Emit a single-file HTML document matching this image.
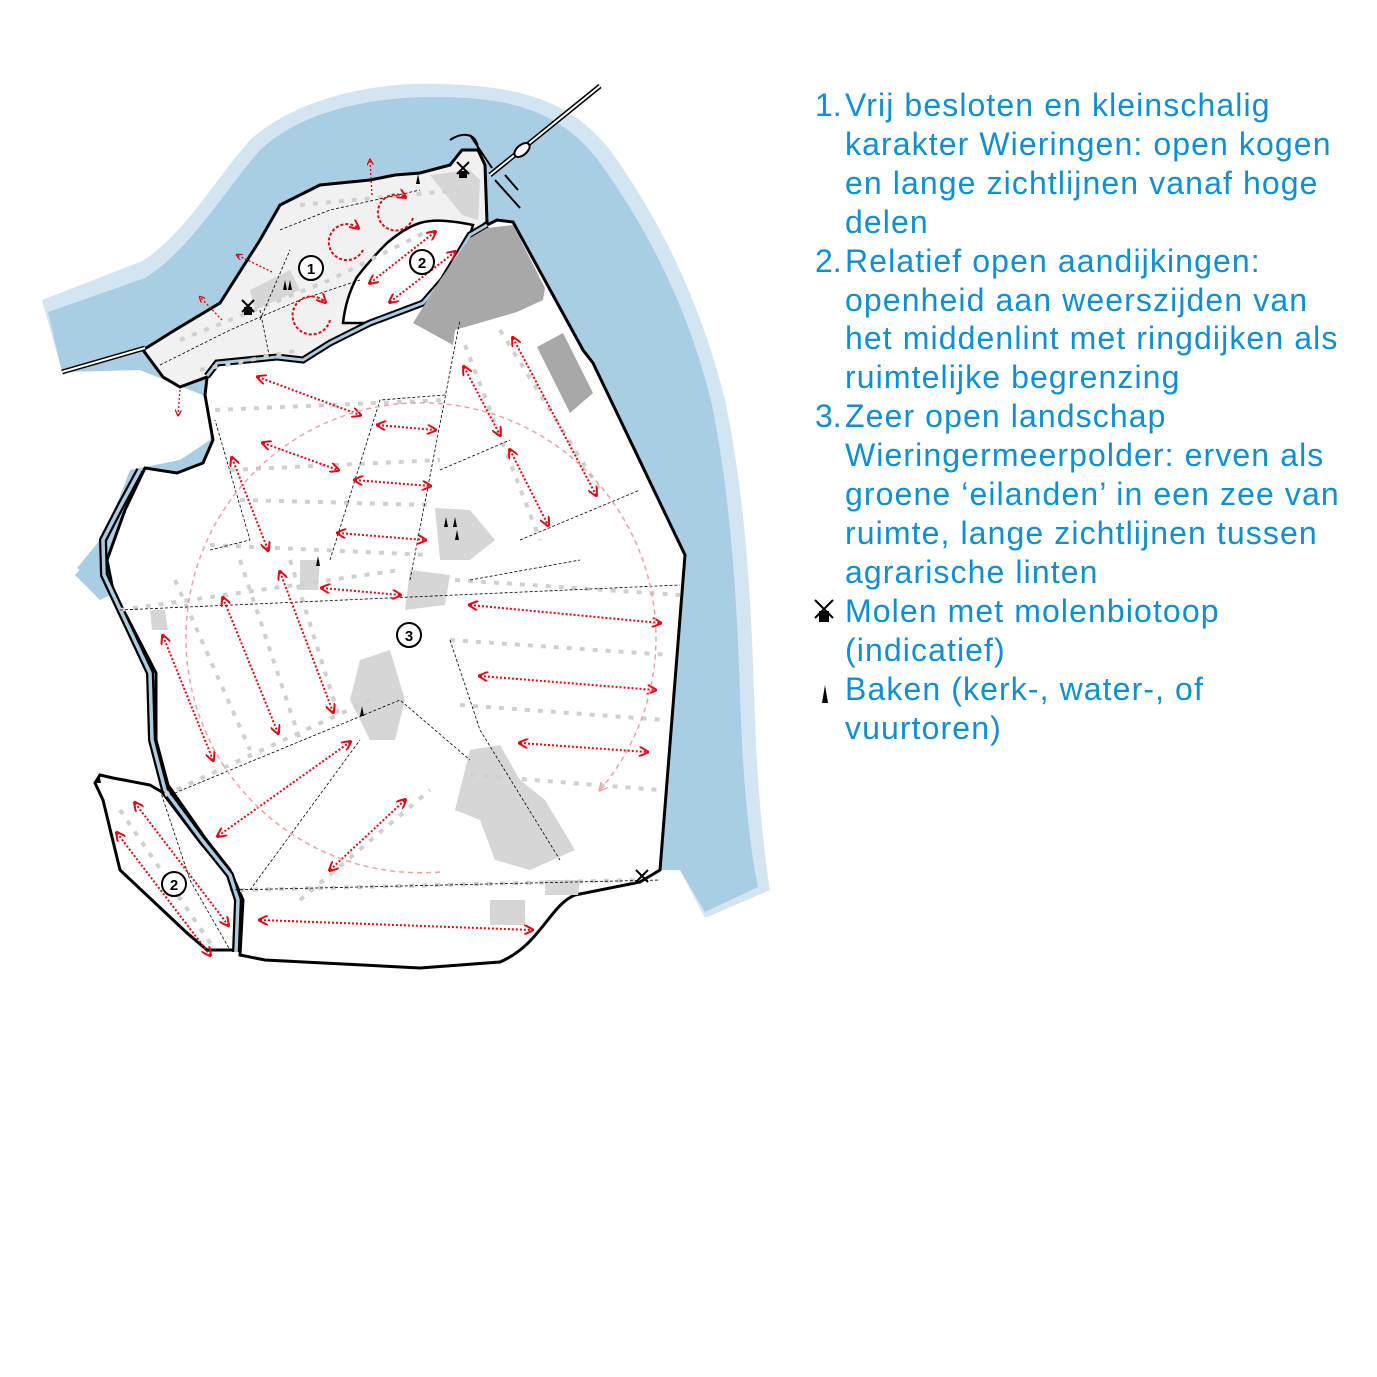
<!DOCTYPE html>
<html><head><meta charset="utf-8"><style>
body{margin:0;background:#fff;width:1377px;height:1377px;overflow:hidden;position:relative}
svg{position:absolute;left:0;top:0}
.leg{position:absolute;left:815px;top:86px;font-family:"Liberation Sans",sans-serif;font-size:32px;line-height:38.9px;color:#0e8fd3;letter-spacing:1.1px;white-space:nowrap}
.leg div{position:relative;padding-left:30px}
.leg span{position:absolute;left:0;letter-spacing:0}
</style></head><body>
<svg width="1377" height="1377" viewBox="0 0 1377 1377">
<defs>
<marker id="a" viewBox="0 0 10 10" refX="8" refY="5" markerWidth="5" markerHeight="5" orient="auto-start-reverse"><path d="M0,0L10,5L0,10" fill="none" stroke="#e30613" stroke-width="2"/></marker>
<marker id="p" viewBox="0 0 10 10" refX="8" refY="5" markerWidth="6" markerHeight="6" orient="auto"><path d="M0,0L10,5L0,10" fill="none" stroke="#f4a0a0" stroke-width="1.5"/></marker>
</defs>
<!-- water -->
<path d="M42,300 L140,262 C180,240 215,180 250,140 C300,95 380,82 440,84 C520,86 570,100 610,150 C660,220 700,300 725,400 C750,520 752,640 755,720 C758,800 765,860 770,890 L705,918 L680,870 L660,870 L600,600 L300,500 L100,600 L75,575 L100,548 L130,470 L180,460 L210,440 L215,400 L140,370 L62,372 Z" fill="#d3e5f1"/>
<path d="M48,312 L145,278 C190,250 225,190 260,150 C305,108 380,96 440,97 C515,98 560,112 598,160 C645,225 688,305 712,405 C735,520 738,640 741,720 C744,800 752,860 758,887 L705,912 L680,870 L660,870 L600,600 L300,500 L100,600 L75,575 L100,548 L130,470 L180,460 L210,440 L215,400 L140,370 L62,372 Z" fill="#a9cde3"/>
<path d="M77,568 L100,540 L110,590 Z" fill="#a9cde3"/>
<!-- main land -->
<path d="M207,378 L217,363 L277,357 L303,360 L330,343 L370,323 L423,303 L443,280 L470,235 L487,225 L497,220 L513,222 L583,350 L593,363 L685,555 L660,870 L640,882 L575,895 C550,905 540,945 500,962 L420,968 L265,960 L240,955 L243,900 L230,870 L205,838 L168,785 L156,740 L156,673 L113,590 L107,560 L125,510 L145,468 L177,473 L203,463 L213,440 L205,395 Z" fill="#fff" stroke="#000" stroke-width="3"/>
<!-- island -->
<path d="M143,350 L175,330 L220,303 L260,240 L280,205 L320,185 L370,180 L395,175 L420,173 L450,165 L462,150 L478,150 L485,165 L487,222 L470,235 L443,280 L423,303 L370,323 L330,343 L303,360 L277,357 L217,363 L207,377 L180,387 L163,377 Z" fill="#f1f1f1" stroke="#000" stroke-width="3"/>
<path d="M343,323 C345,305 350,290 357,277 C370,260 380,250 387,243 C400,232 410,226 420,223 C430,220 443,219 473,225 L470,235 L443,280 L423,303 L370,323 Z" fill="#fff" stroke="#000" stroke-width="2.5"/>
<path d="M430,175 L470,170 L480,180 L478,220 L462,215 Z" fill="#d6d6d6"/>
<!-- lower left -->
<path d="M100,775 L113,778 L150,785 L162,792 L200,842 L228,875 L236,900 L236,950 L207,950 L187,933 L120,870 L103,800 L95,783 Z" fill="#fff" stroke="#000" stroke-width="3"/>
<!-- channels -->
<path d="M207,376 L217,363 L277,357 L303,360 L330,343 L370,323 L423,303 L443,280 L470,235 L487,225" fill="none" stroke="#000" stroke-width="7"/>
<path d="M207,376 L217,363 L277,357 L303,360 L330,343 L370,323 L423,303 L443,280 L470,235 L487,225" fill="none" stroke="#a9cde3" stroke-width="3"/>
<path d="M140,470 L120,507 L103,540 L104,575 L150,673 L152,740 L165,790 L202,840 L230,875 L238,900 L236,952" fill="none" stroke="#000" stroke-width="8"/>
<path d="M140,470 L120,507 L103,540 L104,575 L150,673 L152,740 L165,790 L202,840 L230,875 L238,900 L236,952" fill="none" stroke="#a9cde3" stroke-width="3.5"/>
<!-- dikes -->
<path d="M62,372 L145,348" stroke="#000" stroke-width="5"/><path d="M62,372 L145,348" stroke="#fff" stroke-width="2"/>
<path d="M490,175 L600,86" stroke="#000" stroke-width="5"/><path d="M490,175 L600,86" stroke="#fff" stroke-width="2"/>
<ellipse cx="522" cy="150" rx="9" ry="5" fill="#fff" stroke="#000" stroke-width="2" transform="rotate(-40 522 150)"/>
<g stroke="#000" stroke-width="2" fill="none">
<path d="M450,140 C465,130 478,135 478,150"/><path d="M470,135 L492,168"/><path d="M495,180 L520,208"/><path d="M505,175 L518,190"/>
</g>
<!-- gray areas -->
<g fill="#a8a8a8">
<path d="M487,228 L513,225 L545,288 L543,300 L517,312 L455,330 L453,345 L413,323 L440,280 L470,238 Z"/>
<path d="M537,347 L563,333 L593,393 L570,413 Z"/>
</g>
<g fill="#d6d6d6">
<path d="M435,508 L470,510 L495,540 L470,560 L440,560 Z"/>
<path d="M410,570 L450,575 L445,605 L405,610 Z"/>
<path d="M360,660 L390,650 L405,700 L395,740 L370,740 L350,700 Z"/>
<path d="M470,750 L500,745 L520,780 L545,800 L575,850 L530,870 L495,860 L480,820 L455,810 Z"/>
<path d="M490,900 L525,900 L525,925 L490,925 Z"/>
<path d="M545,880 L580,880 L578,895 L545,895 Z"/>
<path d="M250,290 L290,270 L300,290 L255,310 Z"/>
<path d="M300,560 L320,560 L318,590 L300,590 Z"/>
<path d="M150,610 L165,610 L168,630 L152,630 Z"/>
</g>
<!-- ribbons of buildings -->
<g stroke="#d0d0d0" stroke-width="4" stroke-dasharray="5 8" fill="none">
<path d="M215,410 L445,400"/><path d="M230,470 L440,460"/><path d="M240,500 L430,505"/>
<path d="M210,545 L430,555"/><path d="M120,610 L400,570"/><path d="M455,580 L680,595"/>
<path d="M450,640 L670,655"/><path d="M460,705 L665,720"/><path d="M470,775 L660,790"/>
<path d="M175,580 L250,750"/><path d="M240,560 L300,740"/><path d="M290,560 L340,720"/>
<path d="M465,345 L540,540"/><path d="M500,330 L600,490"/><path d="M240,890 L640,880"/>
<path d="M165,795 L370,700"/><path d="M300,900 L430,790"/><path d="M120,810 L215,950"/>
<path d="M300,205 L460,190"/><path d="M180,340 L330,280 L430,230"/><path d="M200,370 L300,350"/>
</g>
<!-- thin dashed roads -->
<g stroke="#000" stroke-width="0.8" stroke-dasharray="3 2" fill="none">
<path d="M120,610 L680,585"/><path d="M410,580 L460,320"/><path d="M450,640 L480,730 L560,860"/>
<path d="M170,795 L400,700 L470,760"/><path d="M250,890 L360,740"/><path d="M210,550 L250,540 L215,420"/>
<path d="M330,560 L380,400 L445,395"/><path d="M520,540 L640,490"/><path d="M440,470 L510,440"/>
<path d="M230,890 L660,880"/><path d="M260,320 L290,250"/><path d="M470,580 L580,560"/>
<path d="M160,365 L230,330 L300,300 L360,280"/><path d="M280,230 L330,210 L420,190"/><path d="M260,310 L270,360"/>
<path d="M160,790 L190,880 L230,950"/>
</g>
<!-- red arrows -->
<g stroke="#e30613" stroke-width="2" stroke-dasharray="2 2" fill="none" marker-start="url(#a)" marker-end="url(#a)">
<path d="M258,377 L360,415"/><path d="M378,425 L435,430"/><path d="M263,443 L338,470"/>
<path d="M355,480 L430,486"/><path d="M338,533 L425,540"/><path d="M322,588 L400,595"/>
<path d="M232,458 L268,550"/><path d="M280,572 L333,712"/><path d="M223,598 L278,733"/>
<path d="M163,636 L213,760"/><path d="M218,836 L350,742"/><path d="M330,870 L405,800"/>
<path d="M260,920 L532,930"/><path d="M470,605 L660,623"/><path d="M480,676 L655,690"/>
<path d="M520,743 L647,752"/><path d="M464,367 L500,435"/><path d="M510,450 L548,525"/>
<path d="M513,338 L596,495"/><path d="M117,833 L210,955"/><path d="M135,803 L228,925"/>
<path d="M370,283 L435,232"/><path d="M390,302 L455,252"/>
</g>
<g stroke="#e30613" stroke-width="1.3" stroke-dasharray="2 2" fill="none" marker-end="url(#a)">
<path d="M372,195 L370,160"/><path d="M272,272 L237,255"/><path d="M222,320 L200,297"/><path d="M180,390 L178,415"/>
</g>
<g stroke="#e30613" stroke-width="2" stroke-dasharray="3 2" fill="none" marker-end="url(#a)">
<path d="M363,250 A18,18 0 1 1 358,228"/><path d="M413,218 A18,18 0 1 1 405,197"/><path d="M330,320 A19,19 0 1 1 325,302"/>
</g>
<path d="M440,872 A235,235 0 1 1 600,790" fill="none" stroke="#f4a0a0" stroke-width="1.5" stroke-dasharray="5 4" marker-end="url(#p)"/>
<!-- numbers -->
<g font-family="Liberation Sans,sans-serif" font-size="15" font-weight="bold" text-anchor="middle">
<circle cx="311" cy="268" r="12" fill="#fff" stroke="#000" stroke-width="2"/><text x="311" y="274">1</text>
<circle cx="422" cy="262" r="12" fill="#fff" stroke="#000" stroke-width="2"/><text x="422" y="268">2</text>
<circle cx="409" cy="635" r="12" fill="#fff" stroke="#000" stroke-width="2"/><text x="409" y="641">3</text>
<circle cx="174" cy="884" r="12" fill="#fff" stroke="#000" stroke-width="2"/><text x="174" y="890">2</text>
</g>
<!-- beacons & mills -->
<g fill="#000">
<path d="M444,527 l2,-10 l2,10z"/><path d="M453,527 l2,-10 l2,10z"/><path d="M455,540 l2,-10 l2,10z"/>
<path d="M316,566 l2,-10 l2,10z"/><path d="M360,716 l2,-10 l2,10z"/><path d="M97,783 l2,-10 l2,10z"/>
<path d="M283,290 l2,-10 l2,10z"/><path d="M288,290 l2,-10 l2,10z"/><path d="M416,184 l2,-10 l2,10z"/>
<path d="M822,703 l3,-18 l3,18z"/>
<rect x="244" y="307" width="8" height="8"/><rect x="459" y="171" width="8" height="7"/>
</g>
<g stroke="#000" stroke-width="2">
<path d="M242,300 l12,12 M254,300 l-12,12"/><path d="M457,162 l12,12 M469,162 l-12,12"/><path d="M636,870 l12,12 M648,870 l-12,12"/>
<path d="M815,600 l18,18 M833,600 l-18,18"/>
</g>
<rect x="819" y="611" width="10" height="11" fill="#000"/>
</svg>
<div class="leg">
<div><span>1.</span>Vrij besloten en kleinschalig<br>karakter Wieringen: open kogen<br>en lange zichtlijnen vanaf hoge<br>delen</div>
<div><span>2.</span>Relatief open aandijkingen:<br>openheid aan weerszijden van<br>het middenlint met ringdijken als<br>ruimtelijke begrenzing</div>
<div><span>3.</span>Zeer open landschap<br>Wieringermeerpolder: erven als<br>groene ‘eilanden’ in een zee van<br>ruimte, lange zichtlijnen tussen<br>agrarische linten</div>
<div>Molen met molenbiotoop<br>(indicatief)</div>
<div>Baken (kerk-, water-, of<br>vuurtoren)</div>
</div>
</body></html>
